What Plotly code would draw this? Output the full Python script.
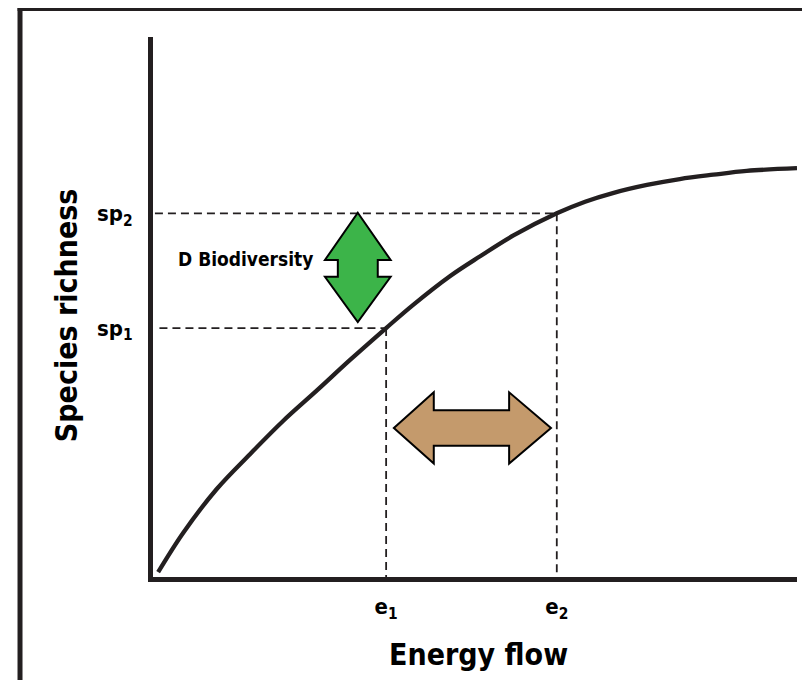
import plotly.graph_objects as go

# ---- data (axes 0-100 units) ----
energy = [0.8, 4.7, 9.9, 15.1, 20.2, 25.5, 30.6, 36.2, 40.4, 46.1, 50.8, 55.9,
          62.7, 67.1, 71.4, 76.7, 81.8, 87.0, 92.2, 100.0]
richness = [0.9, 8.2, 16.3, 22.8, 28.9, 34.6, 40.2, 46.1, 50.4, 55.7, 59.4, 63.2,
            67.35, 69.5, 71.1, 72.6, 73.7, 74.5, 75.2, 75.7]

e_vals = [36.2, 62.7]
e_labels = ["e<sub>1</sub>", "e<sub>2</sub>"]
sp_vals = [46.1, 67.35]
sp_labels = ["sp<sub>1</sub>", "sp<sub>2</sub>"]

x_title = "Energy flow"
y_title = "Species richness"
note_text = "D Biodiversity"

INK = "#231f20"
GREEN = "#3cb449"
BROWN = "#c49a6c"
FONT = "DejaVu Sans Condensed, Liberation Sans Narrow, sans-serif"

fig = go.Figure()

# dashed guides
guide_starts = [1.0, 0.3]
for e, sp, x0 in zip(e_vals, sp_vals, guide_starts):
    fig.add_trace(go.Scatter(x=[x0, e], y=[sp, sp], mode="lines",
                             line=dict(color=INK, width=1.8, dash="8px,5px"),
                             hoverinfo="skip", showlegend=False))
    fig.add_trace(go.Scatter(x=[e, e], y=[sp, 0], mode="lines",
                             line=dict(color=INK, width=1.8, dash="8px,5px"),
                             hoverinfo="skip", showlegend=False))

# main curve
fig.add_trace(go.Scatter(x=energy, y=richness, mode="lines",
                         line=dict(color=INK, width=4.3, shape="spline", smoothing=1.0),
                         hoverinfo="skip", showlegend=False))

# green vertical double arrow (between sp1 and sp2)
gx = 31.8
ghw, gsw = 5.1, 3.1
g_top, g_bot = sp_vals[1] + 0.1, sp_vals[0] + 1.1
g_up, g_lo = 58.7, 55.6
gpath = (f"M {gx},{g_top} L {gx+ghw},{g_up} L {gx+gsw},{g_up} L {gx+gsw},{g_lo} "
         f"L {gx+ghw},{g_lo} L {gx},{g_bot} L {gx-ghw},{g_lo} L {gx-gsw},{g_lo} "
         f"L {gx-gsw},{g_up} L {gx-ghw},{g_up} Z")
fig.add_shape(type="path", path=gpath, xref="x", yref="y",
              fillcolor=GREEN, line=dict(color="black", width=2))

# brown horizontal double arrow (between e1 and e2)
by = 27.6
bhh, bsh = 6.6, 3.3
b_l, b_r = e_vals[0] + 1.2, e_vals[1] - 0.9
b_lb, b_rb = 43.6, 55.3
bpath = (f"M {b_l},{by} L {b_lb},{by+bhh} L {b_lb},{by+bsh} L {b_rb},{by+bsh} "
         f"L {b_rb},{by+bhh} L {b_r},{by} L {b_rb},{by-bhh} L {b_rb},{by-bsh} "
         f"L {b_lb},{by-bsh} L {b_lb},{by-bhh} Z")
fig.add_shape(type="path", path=bpath, xref="x", yref="y",
              fillcolor=BROWN, line=dict(color="black", width=2))

# outer frame (left and top)
fig.add_shape(type="line", xref="paper", yref="paper",
              x0=-0.2065, x1=-0.2065, y0=-0.2, y1=1.0555,
              line=dict(color=INK, width=5))
fig.add_shape(type="line", xref="paper", yref="paper",
              x0=-0.2103, x1=1.03, y0=1.0518, y1=1.0518,
              line=dict(color=INK, width=4))

fig.add_annotation(x=14.4, y=58.9, xref="x", yref="y", text=f"<b>{note_text}</b>",
                   xanchor="center", yanchor="middle",
                   showarrow=False, font=dict(family=FONT, size=19, color="black"))
fig.add_annotation(x=0.506, y=-0.144, xref="paper", yref="paper", text=f"<b>{x_title}</b>",
                   xanchor="center", yanchor="middle",
                   showarrow=False, font=dict(family=FONT, size=30, color="black"))
fig.add_annotation(x=-0.135, y=0.485, xref="paper", yref="paper", text=f"<b>{y_title}</b>",
                   xanchor="center", yanchor="middle",
                   textangle=-90, showarrow=False,
                   font=dict(family=FONT, size=30, color="black"))

fig.update_xaxes(range=[0, 100], showgrid=False, zeroline=False,
                 showline=True, linecolor=INK, linewidth=5,
                 tickmode="array", tickvals=e_vals, ticktext=[f"<b>{t}</b>" for t in e_labels],
                 ticks="", ticklabelstandoff=6,
                 tickfont=dict(family=FONT, size=22, color="black"))
fig.update_yaxes(range=[0, 100], showgrid=False, zeroline=False,
                 showline=True, linecolor=INK, linewidth=5,
                 tickmode="array", tickvals=sp_vals, ticktext=[f"<b>{t}</b>" for t in sp_labels],
                 ticks="", ticklabelstandoff=11,
                 tickfont=dict(family=FONT, size=22, color="black"))

# page body has an 8px margin, so the figure is 8px smaller on each axis
fig.update_layout(width=802, height=672,
                  margin=dict(l=145, r=13, t=29, b=103, pad=0),
                  paper_bgcolor="white", plot_bgcolor="white")

fig.write_html("out.html")
